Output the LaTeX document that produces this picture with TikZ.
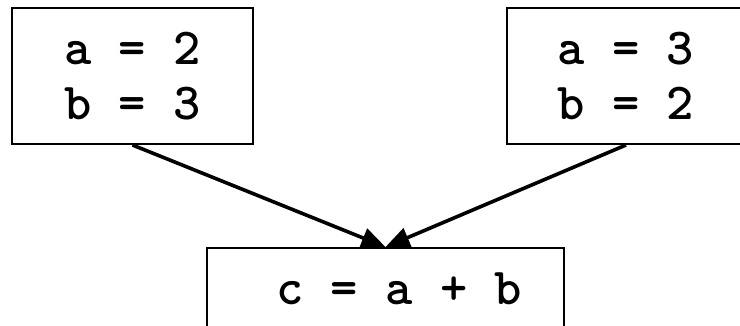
\documentclass[tikz,border=0pt]{standalone}
\usetikzlibrary{arrows.meta}
\begin{document}
\begin{tikzpicture}[x=1pt,y=1pt,
  codebox/.style={draw,line width=2pt,inner sep=0pt,align=center,minimum height=136pt,
    font=\ttfamily\bfseries\fontsize{52}{55}\selectfont},
  flow/.style={-{Triangle[length=24pt,width=20pt]},line width=3.6pt}]
\clip (0,0) rectangle (740,325);
\useasboundingbox (0,0) rectangle (740,325);
\node[codebox,minimum width=241pt] (first) at (132.5,249) {a = 2\\b = 3};
\node[codebox,minimum width=238pt] (second) at (626,249) {a = 3\\b = 2};
\node[codebox,minimum width=357pt,text depth=55pt] (sum) at (385.5,9) {\ c = a + b};
\draw[flow] (first.south) -- (sum.north);
\draw[flow] (second.south) -- (sum.north);
\end{tikzpicture}
\end{document}
